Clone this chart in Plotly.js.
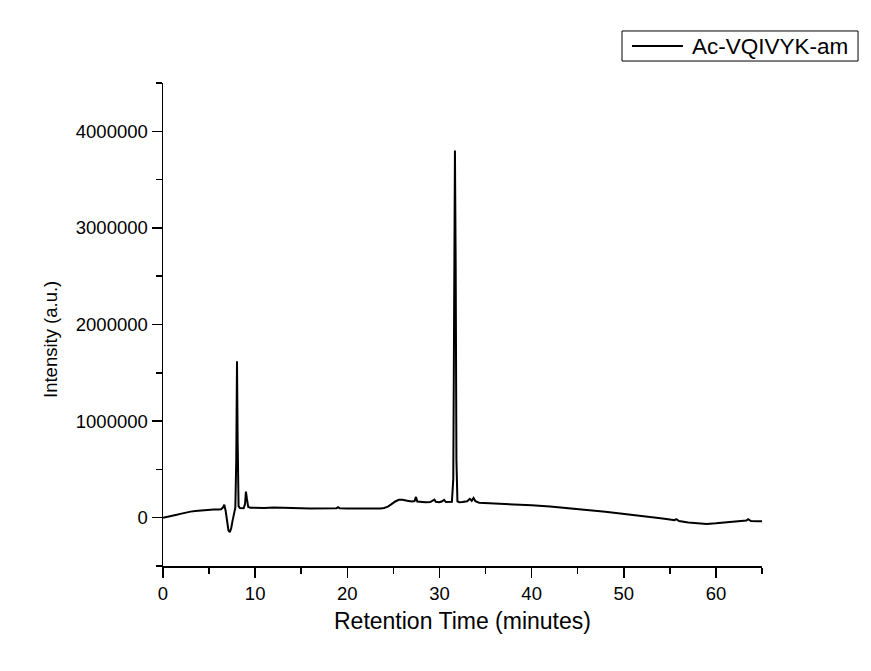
<!DOCTYPE html>
<html>
<head>
<meta charset="utf-8">
<script src="https://cdn.plot.ly/plotly-3.0.1.min.js"></script>
<style>
  html, body { margin: 0; padding: 0; background: #ffffff; }
  #chart { width: 871px; height: 671px; }
</style>
</head>
<body>
<div id="chart"></div>
<script>
// Retention time (minutes)
const retentionTime = [0, 0.5, 1, 1.5, 2, 2.5, 3, 3.5, 4, 4.5, 5, 5.5, 6, 6.3, 6.5, 6.65, 6.8, 6.95, 7.1, 7.25, 7.4, 7.55, 7.7, 7.85, 7.95, 8.03, 8.1, 8.2, 8.35, 8.55, 8.75, 8.9, 9.0, 9.1, 9.25, 9.5, 10, 11, 12, 13, 14, 15, 16, 17, 18, 18.8, 19, 19.2, 20, 21, 22, 23, 23.6, 24, 24.4, 24.8, 25.2, 25.6, 26, 26.5, 27, 27.3, 27.45, 27.6, 28, 28.5, 29, 29.3, 29.45, 29.6, 30, 30.3, 30.5, 30.7, 31, 31.35, 31.5, 31.6, 31.68, 31.76, 31.84, 31.95, 32.15, 32.5, 33, 33.3, 33.5, 33.7, 33.9, 34.3, 35, 36, 37, 38, 39, 40, 42, 44, 46, 48, 50, 52, 54, 55, 55.5, 55.7, 56, 57, 58, 59, 60, 61, 62, 63, 63.3, 63.5, 63.8, 64.5, 65];
// Intensity (a.u.)
const intensity = [0, 8000, 18000, 30000, 42000, 54000, 63000, 70000, 75000, 79000, 82000, 84000, 86000, 88000, 105000, 135000, 70000, -60000, -130000, -150000, -110000, -30000, 50000, 105000, 600000, 1620000, 800000, 120000, 100000, 95000, 98000, 140000, 270000, 200000, 110000, 103000, 100000, 100000, 105000, 100000, 98000, 97000, 96000, 96000, 96000, 97000, 108000, 97000, 96000, 95000, 95000, 95000, 96000, 100000, 115000, 140000, 168000, 185000, 185000, 175000, 168000, 172000, 215000, 168000, 162000, 160000, 162000, 175000, 188000, 165000, 160000, 170000, 185000, 162000, 160000, 165000, 400000, 2500000, 3800000, 2600000, 600000, 170000, 160000, 162000, 170000, 195000, 175000, 205000, 170000, 155000, 152000, 150000, 145000, 140000, 134000, 128000, 115000, 100000, 80000, 62000, 42000, 20000, -5000, -18000, -25000, -15000, -35000, -50000, -60000, -64000, -58000, -50000, -42000, -36000, -30000, -15000, -34000, -36000, -36000];
const seriesName = "Ac-VQIVYK-am";
const xTitle = "Retention Time (minutes)";
const yTitle = "Intensity (a.u.)";

const FONT = "Liberation Sans, Arial, sans-serif";

const trace = {
  x: retentionTime,
  y: intensity,
  type: "scatter",
  mode: "lines",
  name: seriesName,
  line: { color: "#000000", width: 2 },
  showlegend: false
};

const layout = {
  width: 871,
  height: 671,
  margin: { l: 163, r: 109, t: 83, b: 105 },
  paper_bgcolor: "#ffffff",
  plot_bgcolor: "#ffffff",
  font: { family: FONT, color: "#000000", size: 18 },
  showlegend: false,
  xaxis: {
    range: [0, 65],
    tick0: 0,
    dtick: 10,
    ticks: "outside",
    ticklen: 10,
    tickwidth: 1.5,
    tickcolor: "#000000",
    minor: { dtick: 5, ticks: "outside", ticklen: 6, tickwidth: 1.5, tickcolor: "#000000" },
    showline: true,
    linecolor: "#000000",
    linewidth: 1.5,
    showgrid: false,
    zeroline: false,
    tickfont: { family: FONT, size: 18.5, color: "#000000" }
  },
  yaxis: {
    range: [-500000, 4500000],
    tick0: 0,
    dtick: 1000000,
    tickformat: "d",
    ticks: "outside",
    ticklen: 10,
    tickwidth: 1.5,
    tickcolor: "#000000",
    minor: { dtick: 500000, ticks: "outside", ticklen: 6, tickwidth: 1.5, tickcolor: "#000000" },
    showline: true,
    linecolor: "#000000",
    linewidth: 1.5,
    showgrid: false,
    zeroline: false,
    tickfont: { family: FONT, size: 18.5, color: "#000000" }
  },
  shapes: [
    { type: "rect", xref: "paper", yref: "paper", x0: 0.7663, x1: 1.1603, y0: 1.0455, y1: 1.1077,
      line: { color: "#000000", width: 1 }, fillcolor: "rgba(0,0,0,0)" },
    { type: "line", xref: "paper", yref: "paper", x0: 0.783, x1: 0.868, y0: 1.0766, y1: 1.0766,
      line: { color: "#000000", width: 2 } }
  ],
  annotations: [
    { xref: "paper", yref: "paper", x: 0.880, y: 1.0766, xanchor: "left", yanchor: "middle",
      text: seriesName, showarrow: false, font: { family: FONT, size: 22.5, color: "#000000" } },
    { xref: "paper", yref: "paper", x: 0.5, y: -0.1139, xanchor: "center", yanchor: "middle",
      text: xTitle, showarrow: false, font: { family: FONT, size: 23, color: "#000000" } },
    { xref: "paper", yref: "paper", x: -0.187, y: 0.470, xanchor: "center", yanchor: "middle",
      textangle: -90, text: yTitle, showarrow: false, font: { family: FONT, size: 18.5, color: "#000000" } }
  ]
};

Plotly.newPlot("chart", [trace], layout, { displayModeBar: false, staticPlot: true });
</script>
</body>
</html>
